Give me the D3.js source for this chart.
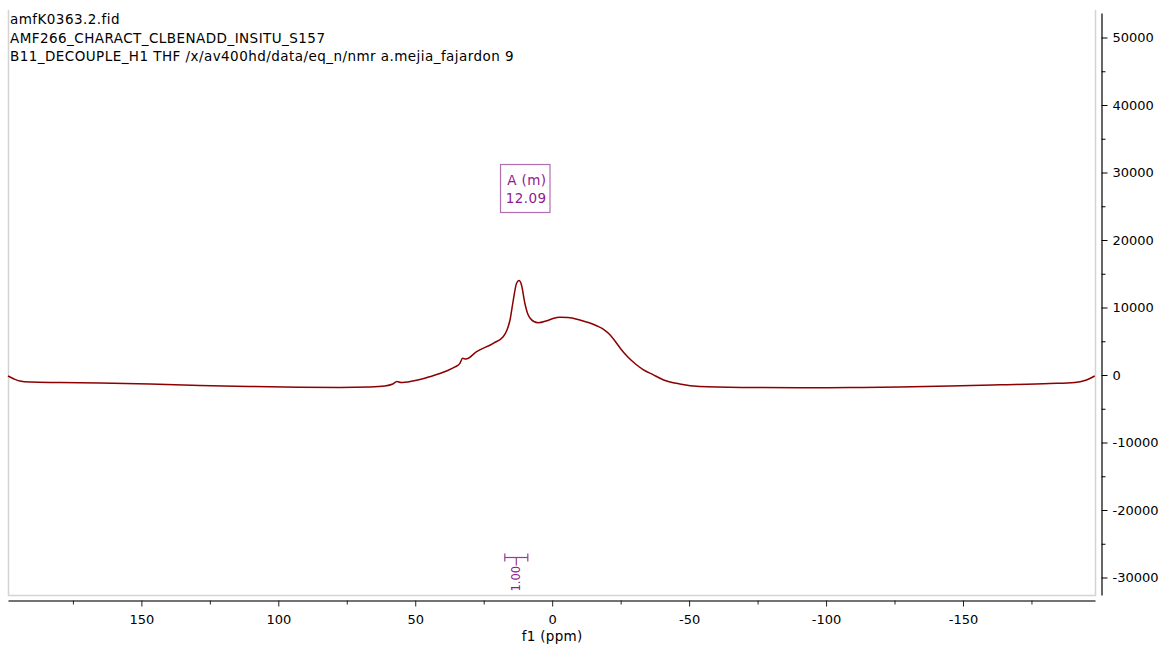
<!DOCTYPE html>
<html>
<head>
<meta charset="utf-8">
<script src="https://cdn.jsdelivr.net/npm/d3@7"></script>
<style>
  html, body { margin: 0; padding: 0; background: #fff; }
  svg { display: block; font-family: "DejaVu Sans", Verdana, sans-serif; }
</style>
</head>
<body>
<svg id="chart" width="1162" height="646"></svg>
<script>
// ---- data ----
const headerLines = [
  "amfK0363.2.fid",
  "AMF266_CHARACT_CLBENADD_INSITU_S157",
  "B11_DECOUPLE_H1 THF /x/av400hd/data/eq_n/nmr a.mejia_fajardon 9"
];
const ppm = [198.7, 196.5, 194.4, 190.7, 179.7, 165.1, 146.8, 128.6, 110.4, 92.1, 77.5, 66.6, 61.1, 58.2, 56.7, 55.2, 53.8, 48.3, 44.7, 38.6, 35.5, 33.7, 32.7, 31.5, 27.6, 21.5, 17.9, 16.5, 15.4, 14.2, 13.0, 12.1, 11.2, 10.0, 8.9, 8.1, 6.7, 5.1, 2.0, -0.3, -2.8, -5.8, -10.1, -16.2, -19.0, -21.0, -23.0, -25.0, -27.2, -30.2, -33.2, -36.8, -40.5, -46.6, -53.9, -72.1, -90.4, -108.7, -126.9, -145.2, -163.5, -181.7, -190.8, -194.5, -196.3, -198.1];
const intensity = [-150, -590, -890, -1040, -1110, -1190, -1330, -1560, -1700, -1810, -1850, -1780, -1630, -1330, -960, -1110, -1080, -670, -250, 590, 1190, 1730, 2470, 2370, 3450, 4700, 5670, 6670, 8150, 11110, 13590, 14000, 13330, 10670, 9040, 8440, 7930, 7750, 8040, 8370, 8550, 8520, 8150, 7300, 6700, 6000, 5000, 3900, 2850, 1700, 800, 50, -700, -1330, -1700, -1850, -1900, -1850, -1780, -1630, -1450, -1260, -1110, -820, -520, -150];
const xMajorTicks = [150, 100, 50, 0, -50, -100, -150];
const xMinorTicks = [175, 125, 75, 25, -25, -75, -125, -175];
const yMajorTicks = [50000, 40000, 30000, 20000, 10000, 0, -10000, -20000, -30000];
const yMinorTicks = [45000, 35000, 25000, 15000, 5000, -5000, -15000, -25000];
const peakLabel = ["A (m)", "12.09"];
const peakPpm = 12.09;
const integralRange = [17.3, 8.9];
const integralValue = "1.00";
const xTitle = "f1 (ppm)";

// ---- layout ----
const svg = d3.select("#chart");
const L = 8, R = 1095, T = 10, B = 595;
const x = d3.scaleLinear().domain([198.7, -198.2]).range([L, R]);
const y = d3.scaleLinear().domain([0, 10000]).range([375, 307.5]);
const fmt = d => String(d);   // plain hyphen minus as in the reference

// frame (left, right, bottom)
svg.append("path")
  .attr("d", `M${L + 0.5},${T} V${B + 0.5} H${R + 0.5} V${T}`)
  .attr("fill", "none").attr("stroke", "#d4d4d4").attr("stroke-width", 1.5);

// header text
svg.append("g").selectAll("text").data(headerLines).join("text")
  .attr("x", 10).attr("y", (d, i) => 24 + i * 18.5)
  .attr("font-size", 13.5).attr("letter-spacing", 0.45).attr("fill", "#000").text(d => d);

// x axis
const xAxisY = 600.5;
const gx = svg.append("g").attr("transform", `translate(0,${xAxisY})`);
gx.call(d3.axisBottom(x).tickValues(xMajorTicks).tickSize(6).tickSizeOuter(0).tickPadding(8)
  .tickFormat(fmt));
gx.select(".domain").attr("stroke", "#444").attr("stroke-width", 1.5);
gx.selectAll(".tick line").attr("stroke", "#222");
gx.selectAll(".tick text").attr("font-size", 13).attr("fill", "#000")
  .attr("font-family", "DejaVu Sans, sans-serif");
const gxm = svg.append("g").attr("transform", `translate(0,${xAxisY})`);
gxm.call(d3.axisBottom(x).tickValues(xMinorTicks).tickSize(4).tickFormat(""));
gxm.select(".domain").remove();
gxm.selectAll(".tick line").attr("stroke", "#222");
svg.append("text").attr("x", x(0)).attr("y", 641).attr("text-anchor", "middle")
  .attr("font-size", 13.5).attr("letter-spacing", 0.3).attr("fill", "#000").text(xTitle);

// y axis (right)
const yAxisX = 1101.5;
const yTop = 13, yBot = 595;
y.domain([y.invert(yBot), y.invert(yTop)]).range([yBot, yTop]);
const gy = svg.append("g").attr("transform", `translate(${yAxisX},0)`);
gy.call(d3.axisRight(y).tickValues(yMajorTicks).tickSize(6).tickSizeOuter(0).tickPadding(5)
  .tickFormat(fmt));
gy.select(".domain").attr("stroke", "#000").attr("stroke-width", 1.2);
gy.selectAll(".tick line").attr("stroke", "#000");
gy.selectAll(".tick text").attr("font-size", 13).attr("fill", "#000")
  .attr("font-family", "DejaVu Sans, sans-serif");
const gym = svg.append("g").attr("transform", `translate(${yAxisX},0)`);
gym.call(d3.axisRight(y).tickValues(yMinorTicks).tickSize(4).tickFormat(""));
gym.select(".domain").remove();
gym.selectAll(".tick line").attr("stroke", "#000");

// spectrum
const pts = ppm.map((p, i) => [x(p), y(intensity[i])]);
svg.append("path").datum(pts)
  .attr("d", d3.line().curve(d3.curveMonotoneX))
  .attr("fill", "none").attr("stroke", "#8b0000").attr("stroke-width", 1.5);

// peak annotation
const purple = "#8e1a8e";
svg.append("rect").attr("x", 500.5).attr("y", 164.5).attr("width", 49.5).attr("height", 48)
  .attr("fill", "none").attr("stroke", "#b070b0").attr("stroke-width", 1.2);
svg.append("g").selectAll("text").data(peakLabel).join("text")
  .attr("x", 546.5).attr("y", (d, i) => 185 + i * 17.5).attr("text-anchor", "end")
  .attr("font-size", 13.5).attr("letter-spacing", 0.4).attr("fill", purple).text(d => d);

// integral marker
const ix0 = x(integralRange[0]), ix1 = x(integralRange[1]);
const iy = 557.5;
const ig = svg.append("g").attr("stroke", "#9a3a9a").attr("stroke-width", 1.2).attr("fill", "none");
ig.append("line").attr("x1", ix0).attr("x2", ix1).attr("y1", iy).attr("y2", iy);
ig.append("line").attr("x1", ix0).attr("x2", ix0).attr("y1", iy - 4).attr("y2", iy + 4);
ig.append("line").attr("x1", ix1).attr("x2", ix1).attr("y1", iy - 4).attr("y2", iy + 4);
ig.append("line").attr("x1", (ix0 + ix1) / 2).attr("x2", (ix0 + ix1) / 2).attr("y1", iy).attr("y2", iy + 8);
svg.append("text")
  .attr("transform", `translate(${(ix0 + ix1) / 2 + 4},${iy + 34}) rotate(-90)`)
  .attr("font-size", 11.5).attr("fill", purple).text(integralValue);
</script>
</body>
</html>
